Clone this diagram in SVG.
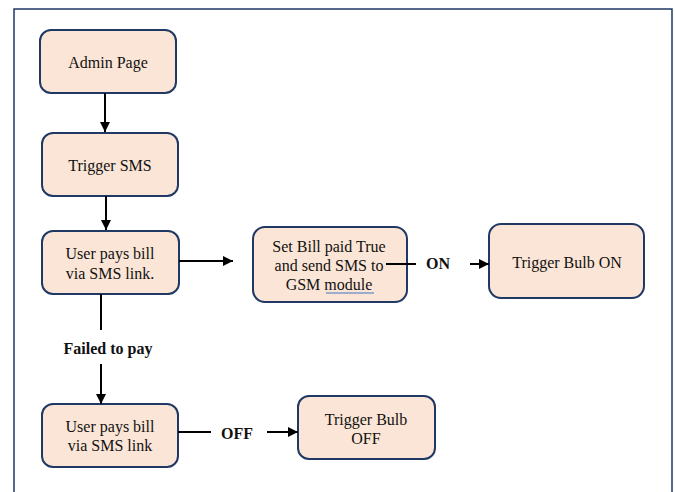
<svg xmlns="http://www.w3.org/2000/svg" width="675" height="492" viewBox="0 0 675 492">
<style>
.box{fill:#FBE5D6;stroke:#203864;stroke-width:2}
.t{font-family:'Liberation Serif','Times New Roman','DejaVu Serif',serif;font-size:16px;fill:#111;text-anchor:middle}
.b{font-weight:bold}
.c{stroke:#000;stroke-width:2;fill:none}
</style>
<defs>
<marker id="ah" viewBox="0 0 10 10" refX="10" refY="5" markerWidth="5" markerHeight="5" orient="auto" markerUnits="strokeWidth">
<path d="M0,0 L10,5 L0,10 z" fill="#000"/>
</marker>
</defs>
<rect x="0" y="0" width="675" height="492" fill="#fff"/>
<rect x="14" y="9" width="658" height="500" fill="none" stroke="#203864" stroke-width="1.5"/>
<g id="admin">
<rect class="box" x="40" y="30" width="136" height="63" rx="11"/>
<text class="t" x="108" y="68" font-family="Liberation Serif, serif">Admin Page</text>
</g>
<g id="trigger-sms">
<rect class="box" x="42" y="133" width="136" height="63" rx="11"/>
<text class="t" x="110" y="171">Trigger SMS</text>
</g>
<g id="user-pays-1">
<rect class="box" x="42" y="231" width="137" height="63" rx="11"/>
<text class="t" x="110" y="259">User pays bill</text>
<text class="t" x="110" y="279">via SMS link.</text>
</g>
<g id="set-bill">
<rect class="box" x="253" y="227" width="154" height="75" rx="12"/>
<text class="t" x="329" y="252">Set Bill paid True</text>
<text class="t" x="329" y="271">and send SMS to</text>
<text class="t" x="329" y="290">GSM module</text>
<line x1="326" y1="293" x2="374" y2="293" stroke="#4472C4" stroke-width="1"/>
</g>
<g id="bulb-on">
<rect class="box" x="489" y="224" width="155" height="74" rx="12"/>
<text class="t" x="567" y="268">Trigger Bulb ON</text>
</g>
<g id="user-pays-2">
<rect class="box" x="42" y="404" width="136" height="63" rx="11"/>
<text class="t" x="110" y="432">User pays bill</text>
<text class="t" x="110" y="451">via SMS link</text>
</g>
<g id="bulb-off">
<rect class="box" x="298" y="396" width="137" height="63" rx="11"/>
<text class="t" x="366" y="425">Trigger Bulb</text>
<text class="t" x="366" y="444">OFF</text>
</g>
<g id="connectors">
<line class="c" x1="105" y1="93" x2="105" y2="132" marker-end="url(#ah)"/>
<line class="c" x1="106" y1="196" x2="106" y2="230" marker-end="url(#ah)"/>
<line class="c" x1="179" y1="261" x2="233" y2="261" marker-end="url(#ah)"/>
<line class="c" x1="386" y1="264" x2="416" y2="264"/>
<line class="c" x1="470" y1="264" x2="489" y2="264" marker-end="url(#ah)"/>
<line class="c" x1="101" y1="294" x2="101" y2="330"/>
<line class="c" x1="101" y1="364" x2="101" y2="404" marker-end="url(#ah)"/>
<line class="c" x1="178" y1="432" x2="211" y2="432"/>
<line class="c" x1="267" y1="432" x2="298" y2="432" marker-end="url(#ah)"/>
<text class="t b" x="438" y="269">ON</text>
<text class="t b" x="108" y="354">Failed to pay</text>
<text class="t b" x="237" y="439">OFF</text>
</g>
</svg>
